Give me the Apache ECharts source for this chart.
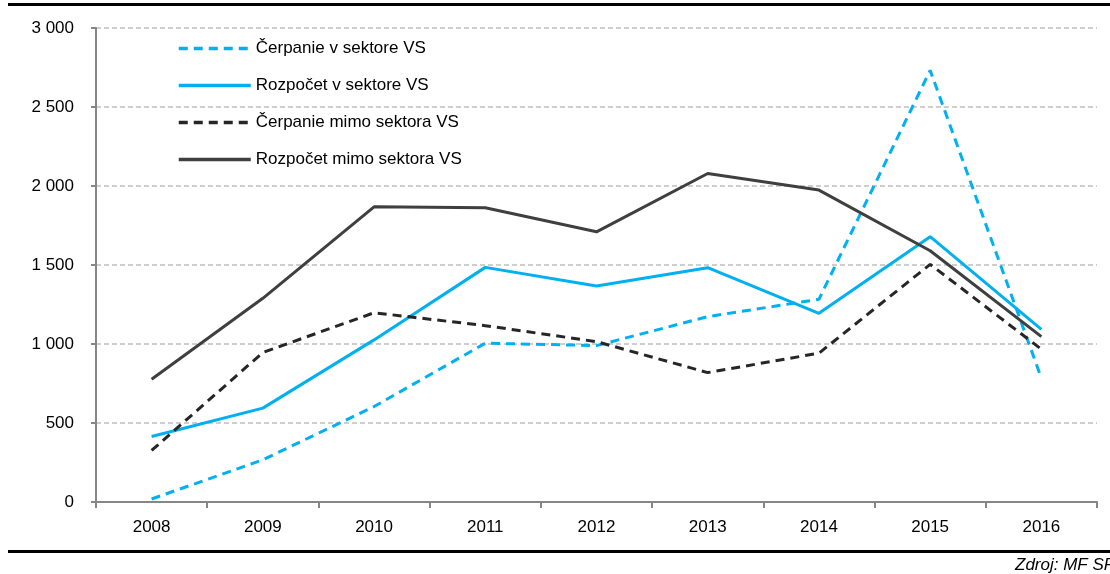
<!DOCTYPE html>
<html>
<head>
<meta charset="utf-8">
<script src="https://cdn.jsdelivr.net/npm/echarts@6/dist/echarts.min.js"></script>
<style>
  html, body { margin: 0; padding: 0; background: #fff; }
  #chart { width: 1110px; height: 574px; }
</style>
</head>
<body>
<div id="chart"></div>
<script>
  // roky
  const years = ['2008', '2009', '2010', '2011', '2012', '2013', '2014', '2015', '2016']
  // hodnoty odčítané z grafu
  const cerpanieV = [19, 267, 604, 1005, 990, 1173, 1283, 2732, 784]
  const rozpocetV = [415, 594, 1026, 1485, 1367, 1483, 1194, 1679, 1093]
  const cerpanieMimo = [326, 946, 1198, 1116, 1015, 819, 942, 1504, 967]
  const rozpocetMimo = [777, 1289, 1868, 1862, 1710, 2079, 1974, 1590, 1047]
  const seriesNames = ['Čerpanie v sektore VS', 'Rozpočet v sektore VS', 'Čerpanie mimo sektora VS', 'Rozpočet mimo sektora VS']

  const font = '"Liberation Sans Narrow", "Arial Narrow", "Liberation Sans", sans-serif'
  const blue = '#00b0f0'
  const dark = '#3f3f3f'

  function lineSeries (name, data, color, dashed) {
    return {
      name: name,
      type: 'line',
      data: data,
      symbol: 'none',
      showSymbol: false,
      lineStyle: { color: color, width: 3, type: dashed ? [9, 6] : 'solid' },
      itemStyle: { color: color }
    }
  }

  let myChart = echarts.init(document.getElementById('chart'))
  myChart.setOption({
    animation: false,
    textStyle: { fontFamily: font },
    grid: { left: 96, right: 13, top: 28, bottom: 72, containLabel: false },
    legend: {
      orient: 'vertical',
      left: 172,
      top: 35,
      itemWidth: 72,
      itemHeight: 14,
      itemGap: 20,
      data: seriesNames,
      itemStyle: { opacity: 0 },
      lineStyle: { width: 3.5 },
      textStyle: { fontFamily: font, fontSize: 17, color: '#000' }
    },
    xAxis: {
      type: 'category',
      data: years,
      boundaryGap: true,
      axisLine: { lineStyle: { color: '#868686', width: 2 } },
      axisTick: { show: true, length: 6, lineStyle: { color: '#868686', width: 2 } },
      axisLabel: { color: '#000', fontSize: 17, margin: 17, fontFamily: font }
    },
    yAxis: {
      type: 'value',
      min: 0,
      max: 3000,
      interval: 500,
      axisLine: { show: true, lineStyle: { color: '#868686', width: 2 } },
      axisTick: { show: true, length: 5, lineStyle: { color: '#868686', width: 2 } },
      axisLabel: {
        color: '#000',
        fontSize: 17,
        margin: 22,
        fontFamily: font,
        formatter: function (v) { return String(v).replace(/\B(?=(\d{3})+(?!\d))/g, ' ') }
      },
      splitLine: { show: true, lineStyle: { color: '#bfbfbf', width: 1.5, type: [5, 3] } }
    },
    graphic: [
      { type: 'rect', shape: { x: 8, y: 3, width: 1102, height: 3 }, style: { fill: '#000' } },
      { type: 'rect', shape: { x: 8, y: 550, width: 1102, height: 3 }, style: { fill: '#000' } },
      {
        type: 'text',
        left: 1015,
        top: 557,
        style: { text: 'Zdroj: MF SR', fill: '#000', font: 'italic 17px ' + font }
      }
    ],
    series: [
      lineSeries(seriesNames[0], cerpanieV, blue, true),
      lineSeries(seriesNames[1], rozpocetV, blue, false),
      lineSeries(seriesNames[2], cerpanieMimo, '#262626', true),
      lineSeries(seriesNames[3], rozpocetMimo, dark, false)
    ]
  })
</script>
</body>
</html>
